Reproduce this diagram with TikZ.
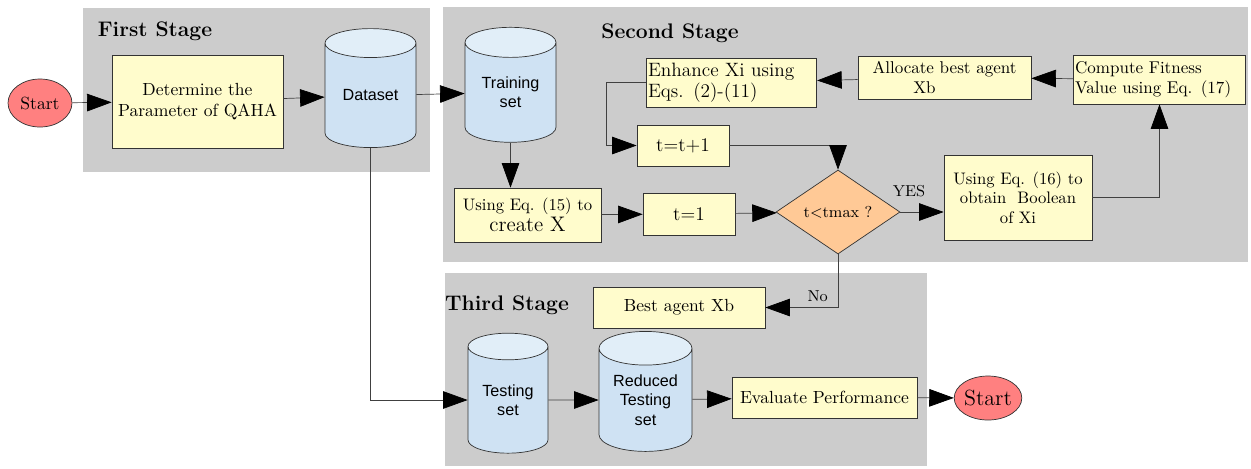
\documentclass[tikz,border=0pt]{standalone}
\usepackage{fontspec}
\newfontfamily\cylfont{Liberation Sans}
\usetikzlibrary{shapes.geometric,arrows.meta}
\definecolor{drumblue}{RGB}{207,226,243}
\definecolor{drumtop}{RGB}{225,238,248}
\definecolor{peach}{RGB}{255,201,150}
\definecolor{termred}{RGB}{255,128,128}

\begin{document}
\begin{tikzpicture}[x=0.02cm,y=-0.02cm,
		>={Triangle[length=14pt,width=10pt,color=black]},
		panel/.style={fill=black!20},
		title/.style={font=\large\bfseries},
		box/.style={
			shape=rectangle,
			draw=black!80, fill=yellow!20,
			inner sep=1pt,
			align=center},
		drum/.style={
			shape=cylinder, shape border rotate=90, aspect=0.52,
			draw=black!80, cylinder uses custom fill,
			cylinder body fill=drumblue, cylinder end fill=drumtop,
			font=\cylfont\fontsize{9.2}{11}\selectfont,
			inner sep=0pt, align=center},
		terminal/.style={
			shape=ellipse, draw=black!80, fill=termred, inner sep=0pt},
		choice/.style={
			shape=diamond, draw=black!80, fill=peach, inner sep=0pt,
			font=\small}]
		\useasboundingbox (0,0) rectangle (1251,468);
		% the three stages
		\fill [panel] (83,8) rectangle (430,172);
		\fill [panel] (443,7) rectangle (1248,262);
		\fill [panel] (445,273) rectangle (927,466);
		\node [title] (h1) at (155,31) {First Stage};
		\node [title] (h2) at (670,33) {Second Stage};
		\node [title] (h3) at (507,305) {Third Stage};
		% first stage
		\node [terminal,minimum width=1.28cm,minimum height=0.96cm] (start) at (40,103) {Start};
		\node [box,minimum width=3.42cm,minimum height=1.86cm] (param) at (197.5,101.5) {Determine the\\Parameter of QAHA};
		\node [drum,minimum width=1.82cm,minimum height=2.38cm] (data) at (370.5,95.5) {Dataset};
		% second stage
		\node [drum,minimum width=1.82cm,minimum height=2.3cm] (train) at (510.5,92.5) {Training\\set};
		\node [box,minimum width=2.94cm,minimum height=1.08cm] (eq15) at (527.5,215) {{\fontsize{9.5}{11}\selectfont Using Eq. (15) to}\\{\large create X}};
		\node [box,minimum width=1.84cm,minimum height=0.84cm,font=\fontsize{11}{13}\selectfont] (tone) at (689,214) {t=1};
		\node [choice,minimum width=2.48cm,minimum height=1.68cm] (cond) at (838,212) {t<tmax ?};
		\node [box,minimum width=2.96cm,minimum height=1.7cm,font=\fontsize{9.5}{11}\selectfont] (eq16) at (1018,197.5) {Using Eq. (16) to\\obtain\ \ Boolean\\of Xi};
		\node [box,minimum height=0.98cm,text width=3.38cm,align=left,font=\fontsize{9.7}{11}\selectfont] (fit) at (1159.5,79.5) {Compute Fitness\\Value using Eq. (17)};
		\node [box,minimum width=3.46cm,minimum height=0.86cm,align=left,font=\fontsize{9.7}{11}\selectfont] (alloc) at (944.5,77.5) {Allocate best agent\\\hspace*{2.4em}Xb};
		\node [box,minimum height=0.98cm,text width=3.34cm,align=left,font=\fontsize{11}{12}\selectfont] (enh) at (731.5,82.5) {Enhance Xi using\\Eqs. (2)-(11)};
		\node [box,minimum width=1.84cm,minimum height=0.82cm,font=\fontsize{11}{13}\selectfont] (inc) at (683,145.5) {t=t+1};
		% third stage
		\node [box,minimum width=3.44cm,minimum height=0.82cm] (best) at (679,307.5) {Best agent Xb};
		\node [drum,minimum width=1.6cm,minimum height=2.4cm] (test) at (508,400) {Testing\\set};
		\node [drum,minimum width=1.86cm,minimum height=2.4cm] (red) at (645.5,400) {Reduced\\Testing\\set};
		\node [box,minimum width=3.7cm,minimum height=0.82cm] (eval) at (824.5,397.5) {Evaluate Performance};
		\node [terminal,minimum width=1.24cm,minimum height=0.88cm,font=\fontsize{12.5}{14}\selectfont] (stop) at (988,398) {Start};
		% connectors
		\draw [->,draw=black!75] (start) edge (param);
		\draw [->,draw=black!75] (param) edge (data);
		\draw [->,draw=black!75] (data) edge (train);
		\draw [->,draw=black!75] (train.south) -- (train.south |- eq15.north);
		\draw [->,draw=black!75] (eq15) edge (tone);
		\draw [->,draw=black!75] (tone) edge (cond);
		\draw [->,draw=black!75] (cond.east) -- node[above,pos=0.2,yshift=5pt,font=\small] {YES} (cond.east -| eq16.west);
		\draw [->,draw=black!75] (eq16.east) -| (fit.south);
		\draw [->,draw=black!75] (fit) edge (alloc);
		\draw [->,draw=black!75] (alloc) edge (enh);
		\draw [->,draw=black!75] (enh.west) -- ++(-40,0) |- (inc.west);
		\draw [->,draw=black!75] (inc.east) -| (cond.north);
		\draw [->,draw=black!75] (cond.south) |- node[above,pos=0.64,font=\small] {No} (best.east);
		\draw [->,draw=black!75] (data.south) |- (test.west);
		\draw [->,draw=black!75] (test) edge (red);
		\draw [->,draw=black!75] (red) edge (eval);
		\draw [->,draw=black!75] (eval) edge (stop);
	\end{tikzpicture}
\end{document}
